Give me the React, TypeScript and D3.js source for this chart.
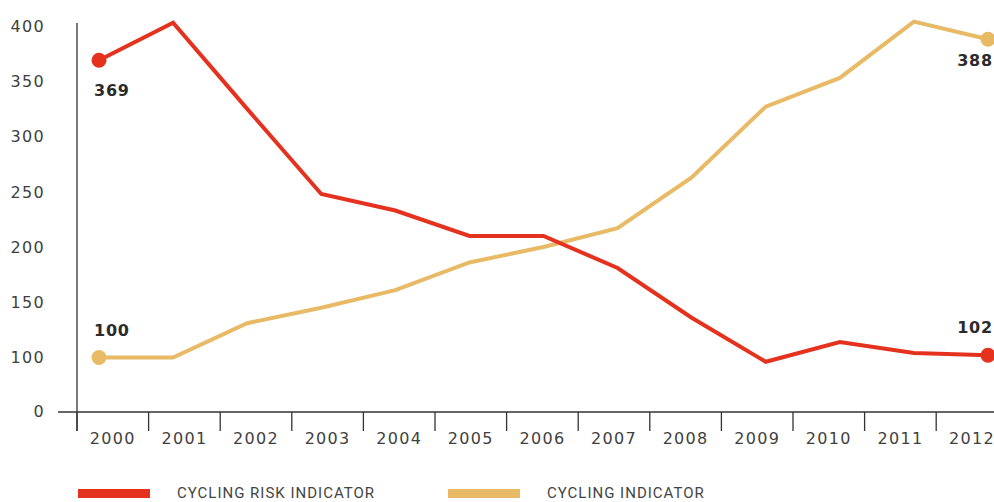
import React from "react";
import * as d3 from "d3";

// Index values, 2000 = reference year
const years = ["2000", "2001", "2002", "2003", "2004", "2005", "2006", "2007", "2008", "2009", "2010", "2011", "2012"];
const riskValues = [369, 403, 325, 248, 233, 210, 210, 181, 136, 92, 114, 104, 102];
const cyclingValues = [100, 100, 131, 145, 161, 186, 200, 217, 263, 327, 353, 404, 388];
const yTicks = [0, 100, 150, 200, 250, 300, 350, 400];

const RED = "#E5321F";
const GOLD = "#E9BA66";
const W = 994;
const H = 502;

export default function App() {
  // Year bands drive the axis ticks; points drive the series marks
  const band = d3.scaleBand<string>().domain(years).range([77, 77 + 13 * 71.6]).padding(0);
  const xPt = d3.scalePoint<string>().domain(years).range([99, 988]);
  // Broken value axis: the 0–100 segment is compressed
  const y = d3.scaleLinear().domain([0, 100, 400]).range([411, 357.5, 26]);

  const line = d3
    .line<number>()
    .x((_, i) => xPt(years[i]) as number)
    .y((d) => y(d));

  const series = [
    { name: "CYCLING RISK INDICATOR", values: riskValues, color: RED },
    { name: "CYCLING INDICATOR", values: cyclingValues, color: GOLD },
  ];

  const axisColor = "#333";
  const tickFont = { fontFamily: "'DejaVu Sans', sans-serif", fontSize: 16, fill: "#3f3f3f", letterSpacing: 1.3 };
  const valFont = { fontFamily: "'DejaVu Sans', sans-serif", fontSize: 16, fill: "#2b2b2b", fontWeight: 700, letterSpacing: 0.8 };

  const last = years.length - 1;
  // End labels: below the point if it is the higher series, above if lower
  const endLabel = (values: number[], other: number[], i: number, anchor: "start" | "end") => {
    const x = xPt(years[i]) as number;
    const above = values[i] < other[i];
    const dy = above ? -22 : anchor === "start" ? 36 : 27;
    return (
      <text
        key={`lbl-${i}-${values[i]}`}
        x={anchor === "start" ? x - 5 : x + 5}
        y={y(values[i]) + dy}
        textAnchor={anchor}
        style={valFont}
      >
        {values[i]}
      </text>
    );
  };

  return (
    <svg width={W} height={H} style={{ position: "absolute", left: 0, top: 0, background: "#fff" }}>
      {/* y axis */}
      <line x1={77} x2={77} y1={23} y2={431} stroke={axisColor} strokeWidth={1.3} />
      {yTicks.map((t) => (
        <text key={t} x={45} y={y(t)} dy="0.36em" textAnchor="end" style={tickFont}>
          {t}
        </text>
      ))}
      {/* x axis */}
      <line x1={58} x2={W} y1={412} y2={412} stroke={axisColor} strokeWidth={1.3} />
      {years.map((yr) => (
        <g key={yr}>
          <line
            x1={band(yr) as number}
            x2={band(yr) as number}
            y1={412}
            y2={431}
            stroke={axisColor}
            strokeWidth={1.3}
          />
          <text x={(band(yr) as number) + band.bandwidth() / 2} y={444} textAnchor="middle" style={tickFont}>
            {yr}
          </text>
        </g>
      ))}

      {/* series */}
      {series
        .slice()
        .reverse()
        .map((s) => (
          <path key={s.name} d={line(s.values) || ""} fill="none" stroke={s.color} strokeWidth={4} strokeLinejoin="miter" />
        ))}
      {series.map((s) => (
        <g key={`dots-${s.name}`}>
          <circle cx={xPt(years[0]) as number} cy={y(s.values[0])} r={7.5} fill={s.color} />
          <circle cx={xPt(years[last]) as number} cy={y(s.values[last])} r={7.5} fill={s.color} />
        </g>
      ))}
      {endLabel(riskValues, cyclingValues, 0, "start")}
      {endLabel(cyclingValues, riskValues, 0, "start")}
      {endLabel(riskValues, cyclingValues, last, "end")}
      {endLabel(cyclingValues, riskValues, last, "end")}

      {/* legend */}
      {series.map((s, i) => {
        const lx = 78 + i * 370;
        return (
          <g key={`leg-${s.name}`}>
            <rect x={lx} y={489} width={72} height={9} fill={s.color} />
            <text
              x={lx + 99}
              y={498}
              style={{ fontFamily: "Roboto, sans-serif", fontSize: 15, fill: "#444", letterSpacing: 1.0 }}
            >
              {s.name}
            </text>
          </g>
        );
      })}
    </svg>
  );
}
